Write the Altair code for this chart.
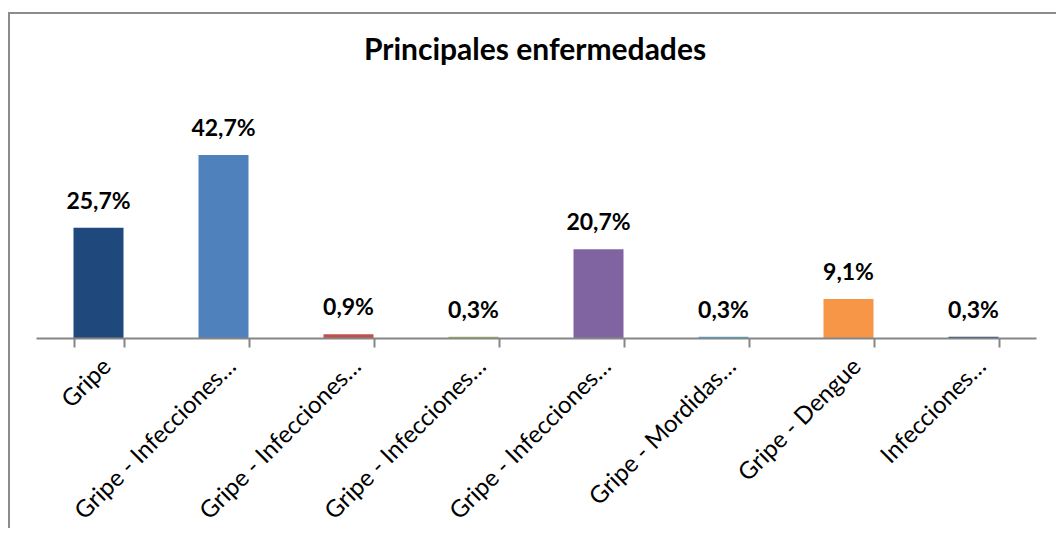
import json
import altair as alt
import pandas as pd

# data
title_text = "Principales enfermedades"
labels = ["Gripe", "Gripe - Infecciones…", "Gripe - Infecciones…", "Gripe - Infecciones…",
          "Gripe - Infecciones…", "Gripe - Mordidas…", "Gripe - Dengue", "Infecciones…"]
values = [25.7, 42.7, 0.9, 0.3, 20.7, 0.3, 9.1, 0.3]
value_text = ["25,7%", "42,7%", "0,9%", "0,3%", "20,7%", "0,3%", "9,1%", "0,3%"]
colors = ["#1F497D", "#4F81BD", "#C0504D", "#9BBB59", "#8064A2", "#4BACC6", "#F79646", "#2C4D75"]

df = pd.DataFrame({
    "id": list(range(len(labels))),
    "value": values,
    "text": value_text,
    "color": colors,
})

label_expr = json.dumps(labels, ensure_ascii=False) + "[datum.value]"

x = alt.X("id:O",
          scale=alt.Scale(paddingInner=0.6, paddingOuter=0.3),
          axis=alt.Axis(title=None, labelExpr=label_expr, labelAngle=-45,
                        labelAlign="right", labelBaseline="top", labelPadding=7,
                        labelFont="Lato", labelFontSize=24, labelColor="#000000",
                        labelLimit=500,
                        domainColor="#868686", domainWidth=2,
                        tickColor="#868686", tickWidth=2, tickSize=9,
                        tickBand="extent", zindex=1))
y = alt.Y("value:Q", scale=alt.Scale(domain=[0, 55.5], nice=False), axis=None)

bars = alt.Chart(df).mark_bar().encode(
    x=x, y=y, color=alt.Color("color:N", scale=None)
)

texts = alt.Chart(df).mark_text(
    font="Lato", fontSize=23, fontWeight="bold", color="#000000",
    baseline="alphabetic", dy=-19
).encode(x=x, y=y, text="text:N")

title = alt.Chart(pd.DataFrame({"t": [title_text]})).mark_text(
    font="Lato", fontSize=30, fontWeight="bold", color="#000000",
    baseline="alphabetic", align="center"
).encode(x=alt.value(499), y=alt.value(-40), text="t:N")

border = alt.Chart(df).mark_rect(
    fill=None, stroke="#8C8C8C", strokeWidth=2
).encode(
    x=alt.value(-27), x2=alt.value(1100),
    y=alt.value(-87), y2=alt.value(600)
)

chart = alt.layer(border, title, bars, texts).properties(
    width=1000,
    height=238,
    autosize=alt.AutoSizeParams(type="none"),
    padding={"left": 28, "top": 92, "right": 20, "bottom": 190},
).configure_view(stroke=None)

chart.save("out.html", embed_options={"renderer": "svg", "actions": False})
